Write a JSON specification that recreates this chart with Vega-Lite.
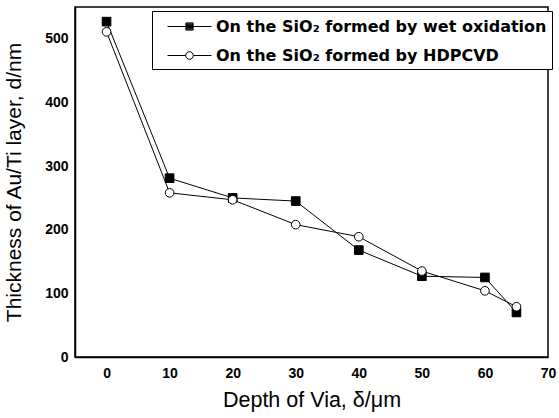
{
  "$schema": "https://vega.github.io/schema/vega-lite/v6.json",
  "width": 473,
  "height": 350,
  "autosize": {"type": "none"},
  "padding": {"left": 75, "top": 7, "right": 11, "bottom": 61},
  "background": "white",
  "config": {
    "view": {"stroke": "black", "strokeWidth": 1.5},
    "axis": {
      "domainColor": "black",
      "domainWidth": 1.5,
      "tickColor": "black",
      "tickWidth": 1.5,
      "grid": false,
      "labelFont": "Liberation Sans",
      "labelFontWeight": "bold",
      "labelFontSize": 14,
      "labelColor": "black",
      "titleFont": "Liberation Sans",
      "titleFontWeight": "normal",
      "titleColor": "black"
    }
  },
  "data": {
    "values": [
      {"series": "On the SiO₂ formed by wet oxidation", "depth": 0, "thickness": 527},
      {"series": "On the SiO₂ formed by wet oxidation", "depth": 10, "thickness": 281},
      {"series": "On the SiO₂ formed by wet oxidation", "depth": 20, "thickness": 250},
      {"series": "On the SiO₂ formed by wet oxidation", "depth": 30, "thickness": 245},
      {"series": "On the SiO₂ formed by wet oxidation", "depth": 40, "thickness": 168},
      {"series": "On the SiO₂ formed by wet oxidation", "depth": 50, "thickness": 127},
      {"series": "On the SiO₂ formed by wet oxidation", "depth": 60, "thickness": 125},
      {"series": "On the SiO₂ formed by wet oxidation", "depth": 65, "thickness": 70},
      {"series": "On the SiO₂ formed by HDPCVD", "depth": 0, "thickness": 511},
      {"series": "On the SiO₂ formed by HDPCVD", "depth": 10, "thickness": 258},
      {"series": "On the SiO₂ formed by HDPCVD", "depth": 20, "thickness": 247},
      {"series": "On the SiO₂ formed by HDPCVD", "depth": 30, "thickness": 208},
      {"series": "On the SiO₂ formed by HDPCVD", "depth": 40, "thickness": 189},
      {"series": "On the SiO₂ formed by HDPCVD", "depth": 50, "thickness": 135},
      {"series": "On the SiO₂ formed by HDPCVD", "depth": 60, "thickness": 104},
      {"series": "On the SiO₂ formed by HDPCVD", "depth": 65, "thickness": 79}
    ]
  },
  "encoding": {
    "x": {
      "field": "depth",
      "type": "quantitative",
      "scale": {"domain": [-5, 70], "nice": false, "zero": false},
      "axis": {
        "title": "Depth of Via, δ/μm",
        "titleFontSize": 21.5,
        "values": [0, 5, 10, 15, 20, 25, 30, 35, 40, 45, 50, 55, 60, 65, 70],
        "labelExpr": "datum.value % 10 === 0 ? datum.label : ''",
        "ticks": true,
        "tickSize": 0,
        "labelPadding": 9,
        "labelFlush": false,
        "labelOverlap": false,
        "titlePadding": 9,
        "encode": {
          "ticks": {"update": {"y2": {"signal": "datum.value % 10 === 0 ? -6 : -3"}}}
        }
      }
    },
    "y": {
      "field": "thickness",
      "type": "quantitative",
      "scale": {"domain": [0, 550], "nice": false},
      "axis": {
        "title": "Thickness of Au/Ti layer, d/nm",
        "titleFontSize": 21,
        "values": [0, 50, 100, 150, 200, 250, 300, 350, 400, 450, 500],
        "labelExpr": "datum.value % 100 === 0 ? datum.label : ''",
        "ticks": true,
        "tickSize": 0,
        "labelPadding": 7,
        "labelFlush": false,
        "labelOverlap": false,
        "titlePadding": 20,
        "encode": {
          "ticks": {"update": {"x2": {"signal": "datum.value % 100 === 0 ? 6 : 3"}}}
        }
      }
    }
  },
  "layer": [
    {
      "mark": {"type": "line", "color": "black", "strokeWidth": 1},
      "encoding": {"detail": {"field": "series"}}
    },
    {
      "mark": {"type": "point", "filled": false, "stroke": "black", "strokeWidth": 1, "opacity": 1, "size": 75},
      "encoding": {
        "shape": {
          "field": "series",
          "type": "nominal",
          "scale": {"domain": ["On the SiO₂ formed by wet oxidation", "On the SiO₂ formed by HDPCVD"], "range": ["square", "circle"]},
          "legend": null
        },
        "fill": {
          "field": "series",
          "type": "nominal",
          "scale": {"domain": ["On the SiO₂ formed by wet oxidation", "On the SiO₂ formed by HDPCVD"], "range": ["black", "white"]},
          "legend": null
        }
      }
    },
    {
      "mark": {"type": "point", "filled": false, "stroke": "black", "strokeWidth": 1, "opacity": 0, "size": 400},
      "encoding": {
        "shape": {
          "field": "series",
          "type": "nominal",
          "scale": {"domain": ["On the SiO₂ formed by wet oxidation", "On the SiO₂ formed by HDPCVD"], "range": ["M-2.2,0H2.2M-0.36,-0.36H0.36V0.36H-0.36ZM-0.36,-0.27H0.36M-0.36,-0.18H0.36M-0.36,-0.09H0.36M-0.36,0.09H0.36M-0.36,0.18H0.36M-0.36,0.27H0.36", "M-2.2,0H-0.38M0.38,0H2.2M0.38,0A0.38,0.38 0 1 1 -0.38,0A0.38,0.38 0 1 1 0.38,0Z"]},
          "legend": {
            "title": null,
            "orient": "none",
            "legendX": 77,
            "legendY": 4,
            "strokeColor": "black",
            "fillColor": "white",
            "padding": 5,
            "labelFont": "DejaVu Sans",
            "labelFontWeight": "bold",
            "labelFontSize": 16,
            "labelColor": "black",
            "labelLimit": 0,
            "symbolSize": 400,
            "symbolOpacity": 1,
            "symbolStrokeColor": "black",
            "symbolStrokeWidth": 1,
            "symbolOffset": 22,
            "labelOffset": 16,
            "rowPadding": 10
          }
        }
      }
    }
  ],
  "resolve": {"scale": {"shape": "independent"}, "legend": {"shape": "independent"}}
}
